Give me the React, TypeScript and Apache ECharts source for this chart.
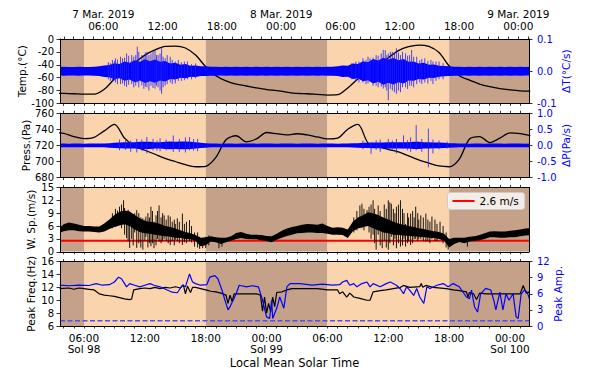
import React, { useEffect, useRef } from "react";
import * as echarts from "echarts";

const FONT = "DejaVu Sans";
const BLUE = "#0000ff";

// LMST hours counted from Sol 98 00:00
const X_MIN = 3.634;
const X_MAX = 49.87;
// UTC hours counted from 7 Mar. 2019 00:00
const UTC_MIN = 1.618;
const UTC_MAX = 49.08;

const LMST_TICKS = [6, 12, 18, 24, 30, 36, 42, 48];
const LMST_LABELS = ["06:00\nSol 98", "12:00", "18:00", "00:00\nSol 99", "06:00", "12:00", "18:00", "00:00\nSol 100"];
const UTC_TICKS = [6, 12, 18, 24, 30, 36, 42, 48];
const UTC_LABELS = ["7 Mar. 2019\n06:00", "12:00", "18:00", "8 Mar. 2019\n00:00", "06:00", "12:00", "18:00", "9 Mar. 2019\n00:00"];

// day / night spans [start, end, isDay]
const SPANS = [[0, 6, 0], [6, 18, 1], [18, 30, 0], [30, 42, 1], [42, 54, 0]];

// Hourly temperature (°C), h = 3..50
const TEMP_T0 = 3;
const TEMP = [-84, -84.5, -85, -85.5, -85.5, -78, -62, -48, -37, -25, -17, -11.5, -11, -14, -25, -43, -57, -65, -70, -73, -76, -78.5, -80, -82.5, -84.5, -85, -86, -87, -86.5, -76, -62, -50, -40, -29, -18, -12, -9.5, -11.5, -21, -42, -57, -64, -70, -74, -77, -79, -80.5, -81];

// Hourly pressure (Pa), h = 3..50
const PRES_T0 = 3;
const PRES = [736, 735, 731, 728.5, 730, 738, 746, 729, 719, 714, 709, 704, 700, 696, 693.5, 694, 705, 727, 732, 724.5, 728, 736, 734.5, 733, 734.5, 733, 730.5, 728, 729, 740, 746, 723, 718.5, 715, 712, 707, 702, 698, 694.5, 693.5, 703, 728, 731, 723.5, 729, 735.5, 734.5, 732];

// Noise envelopes (dense core), every 0.5 h from h = 3.5
const BAND_T0 = 3.5;
const BAND_STEP = 0.5;
const DT_AMP = [
  0.013, 0.014, 0.013, 0.013, 0.014, 0.013, 0.013, 0.014,
  0.015, 0.018, 0.019, 0.025, 0.022, 0.03, 0.026, 0.034, 0.029, 0.037, 0.031, 0.036, 0.029, 0.032, 0.024, 0.026, 0.02, 0.022, 0.017, 0.018, 0.015, 0.015, 0.014,
  0.014, 0.013, 0.014, 0.013, 0.014, 0.013, 0.014, 0.013, 0.014, 0.013, 0.014, 0.013, 0.014, 0.013, 0.014, 0.013, 0.014, 0.013, 0.014, 0.013, 0.014, 0.013, 0.014,
  0.014, 0.015, 0.018, 0.017, 0.024, 0.022, 0.031, 0.028, 0.038, 0.033, 0.042, 0.036, 0.041, 0.034, 0.038, 0.029, 0.03, 0.024, 0.026, 0.02, 0.021, 0.017, 0.016, 0.015, 0.014,
  0.014, 0.013, 0.014, 0.013, 0.014, 0.013, 0.014, 0.013, 0.014, 0.013, 0.014, 0.013, 0.014, 0.013, 0.014,
];
const DP_AMP = [
  0.06, 0.06, 0.055, 0.06, 0.06, 0.055, 0.06, 0.06, 0.06, 0.06,
  0.07, 0.08, 0.09, 0.1, 0.1, 0.1, 0.11, 0.11, 0.11, 0.1, 0.1, 0.11, 0.12, 0.11, 0.12, 0.12, 0.11, 0.1, 0.08, 0.07,
  0.06, 0.06, 0.055, 0.06, 0.06, 0.055, 0.06, 0.06, 0.06, 0.055, 0.06, 0.06, 0.06, 0.055, 0.06, 0.06, 0.06, 0.055, 0.06, 0.06, 0.06, 0.055, 0.06, 0.06, 0.06, 0.055, 0.06, 0.06,
  0.065, 0.07, 0.08, 0.08, 0.09, 0.09, 0.09, 0.1, 0.1, 0.1, 0.1, 0.1, 0.11, 0.11, 0.1, 0.1, 0.09, 0.09, 0.08, 0.07, 0.065,
  0.06, 0.06, 0.055, 0.06, 0.06, 0.055, 0.06, 0.06, 0.06, 0.055, 0.06, 0.06, 0.06, 0.055, 0.06,
];
const WIND_LO = [4.3, 4.8, 5.0, 5.0, 4.8, 4.7, 4.7, 4.6, 4.5, 4.7, 5.3, 5.8, 6.1, 6.4, 6.0, 5.2, 4.6, 4.3, 4.2, 4.0, 3.8, 3.6, 3.5, 3.3, 3.2, 3.0, 2.9, 2.5, 1.3, 1.5, 2.4, 2.2, 1.8, 2.2, 2.6, 3.0, 3.2, 3.0, 2.9, 2.9, 2.7, 2.5, 2.2, 2.8, 3.3, 3.7, 4.0, 4.3, 4.4, 4.5, 4.5, 4.4, 4.4, 4.2, 4.0, 4.0, 3.9, 3.2, 4.8, 5.4, 5.8, 6.0, 5.5, 5.0, 4.5, 4.3, 4.0, 3.9, 3.8, 3.7, 3.6, 3.5, 3.4, 3.3, 3.2, 3.0, 2.6, 1.0, 1.8, 2.3, 2.0, 2.4, 2.5, 2.7, 3.0, 3.4, 3.4, 3.3, 3.3, 3.4, 3.4, 3.6, 3.8, 3.9];
const WIND_HI = [5.5, 6.4, 6.8, 6.6, 6.3, 6.0, 6.0, 5.9, 5.9, 6.6, 7.5, 8.6, 9.3, 9.6, 9.4, 8.6, 7.8, 7.2, 7.0, 6.8, 6.5, 6.0, 5.8, 5.4, 5.0, 4.6, 4.3, 3.9, 3.3, 3.4, 3.6, 3.4, 3.3, 3.3, 3.6, 4.4, 4.6, 4.2, 4.0, 4.0, 3.9, 3.7, 3.6, 4.2, 4.9, 5.4, 5.8, 6.0, 6.3, 6.5, 6.4, 6.3, 6.6, 6.0, 5.6, 5.7, 5.6, 5.2, 7.0, 8.0, 8.5, 9.2, 9.0, 8.6, 8.0, 7.5, 7.0, 6.6, 6.3, 6.0, 5.8, 5.5, 5.3, 5.0, 4.8, 4.6, 4.2, 3.0, 3.3, 3.3, 3.3, 3.5, 3.6, 3.9, 4.3, 4.7, 4.8, 4.7, 4.7, 4.9, 5.0, 5.2, 5.4, 5.5];

// Individual spikes [h, low, high]
const DT_SPIKES = [
  [8.4, -0.025, 0.028], [8.6, -0.03, 0.025], [8.8, -0.03, 0.035], [9.0, -0.028, 0.032], [9.1, -0.035, 0.04], [9.3, -0.04, 0.036], [9.6, -0.04, 0.045], [9.8, -0.038, 0.04], [10.0, -0.045, 0.042], [10.2, -0.049, 0.055], [10.4, -0.042, 0.048], [10.7, -0.04, 0.05], [10.9, -0.05, 0.045], [11.1, -0.045, 0.05], [11.25, -0.035, 0.076], [11.4, -0.05, 0.06], [11.7, -0.044, 0.05], [11.9, -0.055, 0.048], [12.05, -0.048, 0.058], [12.2, -0.05, 0.06], [12.4, -0.06, 0.05], [12.6, -0.045, 0.055], [12.8, -0.052, 0.062], [13.0, -0.054, 0.066], [13.15, -0.045, 0.05], [13.3, -0.05, 0.05], [13.5, -0.06, 0.055], [13.65, -0.07, 0.071], [13.8, -0.05, 0.045], [14.0, -0.045, 0.04], [14.2, -0.04, 0.05], [14.5, -0.035, 0.045], [14.7, -0.04, 0.035], [15.0, -0.038, 0.03], [15.3, -0.03, 0.035], [15.6, -0.03, 0.028], [15.9, -0.028, 0.03], [16.2, -0.025, 0.03], [16.6, -0.025, 0.022], [17.0, -0.022, 0.024],
  [32.4, -0.025, 0.025], [32.8, -0.03, 0.03], [33.1, -0.035, 0.03], [33.5, -0.035, 0.04], [33.8, -0.04, 0.035], [34.0, -0.038, 0.045], [34.2, -0.033, 0.04], [34.5, -0.045, 0.042], [34.8, -0.045, 0.05], [35.0, -0.05, 0.048], [35.3, -0.048, 0.055], [35.5, -0.054, 0.066], [35.7, -0.05, 0.065], [35.85, -0.06, 0.05], [36.0, -0.09, 0.055], [36.2, -0.055, 0.06], [36.4, -0.06, 0.06], [36.6, -0.065, 0.055], [36.8, -0.07, 0.071], [37.0, -0.06, 0.058], [37.2, -0.065, 0.05], [37.4, -0.05, 0.06], [37.7, -0.05, 0.055], [37.9, -0.055, 0.048], [38.1, -0.045, 0.05], [38.3, -0.045, 0.066], [38.5, -0.05, 0.045], [38.8, -0.04, 0.045], [39.1, -0.035, 0.034], [39.3, -0.04, 0.038], [39.6, -0.035, 0.04], [39.9, -0.038, 0.032], [40.2, -0.03, 0.035], [40.4, -0.04, 0.03], [40.7, -0.03, 0.03], [41.0, -0.025, 0.03], [41.4, -0.025, 0.025],
];
const DP_SPIKES = [
  [9.5, -0.15, 0.18], [10.1, -0.14, 0.16], [10.6, -0.2, 0.15], [11.2, -0.22, 0.2], [11.7, -0.16, 0.18], [12.2, -0.25, 0.26], [12.8, -0.15, 0.2], [13.2, -0.16, 0.15], [13.5, -0.18, 0.22], [14.1, -0.15, 0.18], [14.8, -0.2, 0.31], [15.4, -0.2, 0.2], [16.0, -0.22, 0.25], [16.4, -0.15, 0.26], [16.8, -0.16, 0.2], [17.2, -0.18, 0.2],
  [33.5, -0.12, 0.15], [34.3, -0.26, 0.1], [34.8, -0.14, 0.16], [35.2, -0.2, 0.18], [36.0, -0.15, 0.2], [36.4, -0.13, 0.15], [36.8, -0.25, 0.2], [37.5, -0.1, 0.31], [37.9, -0.15, 0.16], [38.2, -0.2, 0.25], [38.75, -0.15, 0.63], [39.3, -0.2, 0.2], [39.95, -0.68, 0.52], [40.4, -0.25, 0.18], [41.0, -0.12, 0.15], [41.8, -0.1, 0.12],
];
const WIND_SPIKES = [
  [8.8, 5.5, 9.0], [9.1, 5.8, 10.0], [9.3, 6.0, 9.6], [9.5, 6.5, 10.5], [9.7, 5.5, 11.0], [9.9, 6.5, 12.0], [10.0, 4.0, 10.2], [10.2, 3.2, 9.0], [10.35, 2.5, 9.8], [10.5, 0.9, 9.3], [10.7, 3.0, 9.0], [10.85, 1.5, 8.8], [11.0, 4.5, 9.0], [11.2, 0.9, 9.7], [11.4, 2.0, 9.0], [11.6, 1.0, 8.0], [11.8, 0.5, 7.8], [12.0, 2.5, 7.5], [12.1, 3.5, 8.2], [12.3, 1.0, 9.0], [12.45, 2.0, 8.0], [12.6, 1.3, 10.5], [12.75, 2.0, 9.5], [12.9, 0.85, 7.0], [13.1, 1.5, 8.5], [13.25, 3.0, 9.5], [13.4, 2.4, 10.8], [13.6, 2.0, 8.0], [13.75, 2.5, 9.0], [13.9, 3.0, 8.5], [14.1, 2.5, 7.5], [14.3, 2.0, 8.5], [14.5, 1.6, 8.2], [14.7, 2.5, 7.0], [14.9, 1.5, 7.5], [15.0, 2.8, 6.5], [15.2, 2.5, 7.8], [15.4, 2.0, 7.0], [15.7, 1.6, 8.9], [15.9, 2.2, 6.5], [16.1, 2.0, 7.0], [16.4, 2.5, 7.4], [16.6, 2.2, 6.0], [16.9, 1.2, 4.5], [17.2, 1.0, 4.5], [17.4, 0.7, 3.5], [17.7, 0.85, 3.0], [18.0, 0.9, 3.5], [18.3, 1.5, 3.8], [19.3, 0.85, 3.2], [19.6, 1.2, 3.2],
  [32.6, 4.5, 8.0], [32.9, 5.0, 9.5], [33.2, 5.5, 10.8], [33.4, 5.5, 11.2], [33.6, 5.0, 10.0], [33.9, 6.0, 9.7], [34.1, 4.5, 10.5], [34.3, 3.0, 11.0], [34.5, 4.0, 12.0], [34.65, 2.0, 10.0], [34.8, 0.5, 8.5], [35.0, 4.0, 10.8], [35.2, 1.5, 9.5], [35.4, 0.85, 8.0], [35.6, 2.5, 11.0], [35.8, 1.0, 10.0], [36.0, 0.5, 12.0], [36.15, 2.0, 11.5], [36.3, 3.5, 11.2], [36.5, 1.5, 10.0], [36.65, 3.0, 9.0], [36.8, 0.85, 10.5], [37.0, 2.0, 11.0], [37.2, 1.2, 12.0], [37.4, 1.5, 10.0], [37.55, 3.0, 9.0], [37.7, 1.2, 6.5], [37.9, 2.0, 9.0], [38.0, 2.5, 8.0], [38.2, 1.6, 8.9], [38.4, 2.0, 9.5], [38.55, 3.0, 8.0], [38.7, 3.0, 10.5], [38.9, 2.5, 9.0], [39.0, 3.0, 7.5], [39.2, 3.0, 8.5], [39.45, 2.5, 8.0], [39.7, 2.4, 8.9], [39.9, 2.5, 7.5], [40.1, 2.0, 7.0], [40.3, 3.0, 8.2], [40.6, 2.5, 7.5], [40.8, 2.5, 6.5], [41.1, 3.0, 7.0], [41.4, 2.0, 6.0], [41.7, 1.0, 4.5], [41.9, 0.5, 3.0], [43.8, 1.2, 3.3],
];
const WIND_THRESHOLD = 2.6;

// Peak frequency (Hz) [h, value]
const FREQ = [
  [3.6, 11.8], [4.5, 11.9], [5, 11.7], [5.5, 11.9], [6, 11.8], [6.5, 11.7], [7, 11.6], [7.5, 11.0], [8, 10.8], [8.5, 10.7], [9, 10.6], [9.5, 10.4], [10, 10.2], [10.5, 10.1], [10.7, 10.2], [10.9, 11.6], [11.5, 11.8], [12, 11.9], [12.5, 11.8], [13, 12.0], [13.5, 11.8], [14, 12.0], [14.5, 11.9], [15, 12.1], [15.5, 11.9], [15.8, 12.4], [16.0, 11.0], [16.2, 12.2], [16.5, 11.2], [16.7, 12.0], [17, 12.0], [17.5, 11.8], [18, 11.6], [18.5, 11.4], [19, 11.3], [19.5, 11.1], [20, 10.8], [20.2, 9.5], [20.4, 10.8], [20.6, 9.8], [20.8, 11.0], [21.3, 11.0], [22, 11.0], [22.5, 11.0], [23, 11.0], [23.4, 10.8], [23.6, 8.3], [23.8, 10.5], [24.0, 8.0], [24.2, 9.5], [24.4, 8.2], [24.6, 10.5], [24.8, 9.0], [25.0, 11.2], [25.5, 11.3], [26, 11.6], [26.5, 11.8], [27, 11.8],
  [28, 11.8], [29, 11.8], [30, 11.6], [31, 11.6], [31.2, 11.0], [31.5, 11.3], [31.9, 10.5], [32.2, 11.1], [32.6, 10.5], [33.2, 10.3], [33.9, 10.0], [34.2, 10.0], [34.5, 11.3], [35.2, 11.5], [35.8, 11.6], [36.5, 11.8], [37.2, 12.0], [37.5, 12.3], [38.1, 12.0], [39.1, 12.1], [39.25, 12.6], [39.4, 12.0], [39.7, 12.3], [40.4, 12.0], [41.7, 11.8], [42.4, 11.6], [43, 11.5], [43.7, 11.3], [43.85, 10.5], [44.0, 11.2], [44.4, 11.0], [44.7, 10.1], [45, 11.1], [45.7, 11.0], [47, 11.0], [48.3, 11.0], [49, 11.0], [49.3, 12.3], [49.6, 11.1], [49.9, 11.3],
];
// Peak amplitude [h, value]
const AMP = [
  [3.6, 7.6], [4.5, 7.5], [5.5, 7.6], [6.5, 7.55], [7.2, 7.9], [7.8, 7.6], [8.5, 7.7], [9.0, 8.2], [9.4, 9.1], [9.7, 8.8], [10.0, 7.9], [10.2, 7.3], [10.5, 7.9], [11.0, 7.6], [11.5, 7.3], [12.0, 7.6], [12.5, 7.9], [12.9, 7.6], [13.5, 7.3], [14.2, 6.7], [14.7, 6.3], [15.2, 6.2], [15.7, 7.6], [16.0, 7.3], [16.4, 9.7], [16.7, 8.2], [17.0, 7.9], [17.5, 7.6], [18.1, 7.7], [18.4, 9.1], [18.9, 9.4], [19.2, 8.8], [19.6, 6.7], [19.9, 4.8], [20.2, 3.0], [20.4, 3.6], [20.7, 4.8], [21.0, 6.0], [21.3, 7.6], [22.0, 7.3], [22.6, 7.5], [23.2, 7.3], [23.6, 4.8], [24.0, 1.7], [24.3, 1.4], [24.5, 4.8], [24.6, 1.4], [25.0, 3.3], [25.3, 5.4], [25.7, 3.3], [26.0, 7.3], [26.3, 7.9], [27.3, 7.9],
  [28.5, 7.6], [29.5, 7.8], [30.5, 7.6], [31.2, 7.7], [31.5, 8.2], [31.9, 8.5], [32.2, 7.6], [32.6, 7.9], [32.9, 7.3], [33.4, 7.9], [33.9, 8.2], [34.2, 7.3], [34.5, 7.9], [35.2, 7.3], [35.8, 7.9], [36.2, 8.2], [36.8, 7.6], [37.2, 6.9], [37.5, 6.0], [37.8, 7.3], [38.1, 6.7], [38.5, 5.7], [38.8, 7.0], [39.1, 5.4], [39.5, 4.2], [39.8, 7.3], [40.1, 7.0], [40.8, 7.6], [41.4, 7.9], [41.9, 7.3], [42.4, 7.9], [43.0, 7.3], [43.7, 5.4], [44.0, 5.1], [44.2, 6.7], [44.5, 3.6], [44.8, 2.6], [45.1, 6.0], [45.6, 7.0], [46.1, 6.7], [46.4, 4.8], [46.6, 3.0], [47.0, 6.3], [47.3, 3.0], [47.6, 6.0], [47.9, 4.8], [48.3, 6.0], [48.6, 1.7], [48.8, 1.4], [49.1, 6.0], [49.4, 6.7], [49.7, 6.3], [49.9, 5.1],
];
const AMP_THRESHOLD = 1.0;

const TOPS = [39, 113.2, 187.4, 261.6];
const GRID_H = 64.4;

const hourTicks = (a: number, b: number) => {
  const out: number[] = [];
  for (let h = Math.ceil(a); h <= b; h++) out.push(h);
  return out;
};

function xAx(grid: number, position: string, opts: any = {}) {
  return {
    type: "value", gridIndex: grid, position, min: X_MIN, max: X_MAX, z: 5,
    axisLine: { show: true, onZero: false, lineStyle: { color: "#000", width: 1 } },
    axisTick: { show: true, customValues: hourTicks(X_MIN, X_MAX), length: 2.5, lineStyle: { color: "#000", width: 0.8 } },
    axisLabel: { show: false },
    splitLine: { show: false },
    ...opts,
  };
}

function yAx(grid: number, position: string, min: number, max: number, interval: number, name: string, color: string, gap: number, fmt?: (v: number) => string, show = true) {
  return {
    type: "value", gridIndex: grid, position, min, max, interval, name, z: 5,
    nameLocation: "middle", nameGap: gap, nameMoveOverlap: false,
    nameTextStyle: { color, fontSize: 10.5, fontFamily: FONT },
    axisLine: { show: true, onZero: false, lineStyle: { color: "#000", width: 1 } },
    axisTick: { show, length: 3.5, lineStyle: { color: "#000", width: 0.8 } },
    axisLabel: { show, color, fontSize: 10, fontFamily: FONT, margin: position === "left" ? 6 : 8, formatter: fmt },
    splitLine: { show: false },
  };
}

const bgSeries = (i: number) => ({
  type: "custom", xAxisIndex: 2 * i, yAxisIndex: 2 * i, z: 0, silent: true, clip: true,
  data: SPANS,
  renderItem: (params: any, api: any) => {
    const cs = params.coordSys;
    const x1 = api.coord([api.value(0), 0])[0];
    const x2 = api.coord([api.value(1), 0])[0];
    return { type: "rect", shape: { x: x1, y: cs.y, width: x2 - x1, height: cs.height }, style: { fill: api.value(2) ? "#fad4ac" : "#c4a188" } };
  },
});

const bandSeries = (xi: number, yi: number, lo: number[], hi: number[], color: string) => ({
  type: "custom", xAxisIndex: xi, yAxisIndex: yi, z: 3, silent: true, clip: true,
  data: [[20, 0]],
  renderItem: (_p: any, api: any) => {
    const pts: number[][] = [];
    for (let i = 0; i < hi.length; i++) pts.push(api.coord([BAND_T0 + i * BAND_STEP, hi[i]]));
    for (let i = lo.length - 1; i >= 0; i--) pts.push(api.coord([BAND_T0 + i * BAND_STEP, lo[i]]));
    return { type: "polygon", shape: { points: pts }, style: { fill: color } };
  },
});

const spikeSeries = (xi: number, yi: number, data: number[][], color: string, w: number) => ({
  type: "custom", xAxisIndex: xi, yAxisIndex: yi, z: 3, silent: true, clip: true,
  data,
  renderItem: (_p: any, api: any) => {
    const a = api.coord([api.value(0), api.value(1)]);
    const b = api.coord([api.value(0), api.value(2)]);
    return { type: "line", shape: { x1: a[0], y1: a[1], x2: b[0], y2: b[1] }, style: { stroke: color, lineWidth: w } };
  },
});

export default function App() {
  const ref = useRef<HTMLDivElement>(null);
  useEffect(() => {
    if (!ref.current) return;
    const chart = echarts.init(ref.current, undefined, { renderer: "svg" });
    const tempData = TEMP.map((v, i) => [TEMP_T0 + i, v]);
    const presData = PRES.map((v, i) => [PRES_T0 + i, v]);
    const option: any = {
      animation: false,
      textStyle: { fontFamily: FONT },
      grid: TOPS.map((t) => ({ left: 60, right: 73, top: t, height: GRID_H })),
      legend: {
        data: [{ name: "2.6 m/s", icon: "rect" }],
        left: 447.5, top: 192.5, itemWidth: 22, itemHeight: 2, itemGap: 5,
        padding: [3, 6, 3, 5],
        backgroundColor: "rgba(255,255,255,0.8)", borderColor: "#cccccc", borderWidth: 1, borderRadius: 3,
        textStyle: { fontSize: 10.5, color: "#000", fontFamily: FONT },
      },
      xAxis: [
        xAx(0, "bottom"),
        {
          type: "value", gridIndex: 0, position: "top", min: UTC_MIN, max: UTC_MAX, z: 5,
          axisLine: { show: true, onZero: false, lineStyle: { color: "#000", width: 1 } },
          axisTick: { show: true, customValues: hourTicks(UTC_MIN, UTC_MAX), length: 2.5, lineStyle: { color: "#000", width: 0.8 } },
          axisLabel: {
            show: true, customValues: UTC_TICKS, fontSize: 10.5, color: "#000", margin: 7, lineHeight: 12, align: "center",
            formatter: (v: number) => UTC_LABELS[UTC_TICKS.indexOf(Math.round(v))] || "",
          },
          splitLine: { show: false },
        },
        xAx(1, "bottom"),
        xAx(1, "top"),
        xAx(2, "bottom"),
        xAx(2, "top"),
        xAx(3, "bottom", {
          name: "Local Mean Solar Time", nameLocation: "middle", nameGap: 31, nameMoveOverlap: false,
          nameTextStyle: { fontSize: 11.5, color: "#000", fontFamily: FONT },
          axisLabel: {
            show: true, customValues: LMST_TICKS, fontSize: 10.5, color: "#000", margin: 6, lineHeight: 11.5, align: "center",
            formatter: (v: number) => LMST_LABELS[LMST_TICKS.indexOf(Math.round(v))] || "",
          },
        }),
        xAx(3, "top"),
      ],
      yAxis: [
        yAx(0, "left", -100, 0, 20, "Temp.(°C)", "#000", 33),
        yAx(0, "right", -0.1, 0.1, 0.1, "ΔT(°C/s)", BLUE, 31, (v) => v.toFixed(1)),
        yAx(1, "left", 680, 760, 20, "Press.(Pa)", "#000", 29),
        yAx(1, "right", -1, 1, 0.5, "ΔP(Pa/s)", BLUE, 31, (v) => v.toFixed(1)),
        yAx(2, "left", 0, 15, 3, "W. Sp.(m/s)", "#000", 24),
        { ...yAx(2, "right", 0, 15, 3, "", "#000", 20, undefined, false), name: "" },
        yAx(3, "left", 6, 16, 2, "Peak Freq.(Hz)", "#000", 24),
        yAx(3, "right", 0, 12, 3, "Peak Amp.", BLUE, 23),
      ],
      series: [
        bgSeries(0), bgSeries(1), bgSeries(2), bgSeries(3),
        // Panel 1
        { type: "line", name: "temp", xAxisIndex: 0, yAxisIndex: 0, z: 2, data: tempData, smooth: 0.3, showSymbol: false, lineStyle: { color: "#000", width: 1.3 } },
        bandSeries(0, 1, DT_AMP.map((a) => -a), DT_AMP, BLUE),
        spikeSeries(0, 1, DT_SPIKES, "#2020ff", 0.8),
        // Panel 2
        { type: "line", name: "pres", xAxisIndex: 2, yAxisIndex: 2, z: 2, data: presData, smooth: 0.3, showSymbol: false, lineStyle: { color: "#000", width: 1.3 } },
        bandSeries(2, 3, DP_AMP.map((a) => -a), DP_AMP, BLUE),
        spikeSeries(2, 3, DP_SPIKES, "#2020ff", 0.8),
        // Panel 3
        { type: "line", name: "2.6 m/s", xAxisIndex: 4, yAxisIndex: 4, z: 2, data: [[X_MIN, WIND_THRESHOLD], [X_MAX, WIND_THRESHOLD]], showSymbol: false, lineStyle: { color: "#ff0000", width: 2 }, itemStyle: { color: "#ff0000" } },
        bandSeries(4, 4, WIND_LO, WIND_HI, "#000"),
        spikeSeries(4, 4, WIND_SPIKES, "#000", 0.9),
        // Panel 4
        { type: "line", name: "freq", xAxisIndex: 6, yAxisIndex: 6, z: 2, data: FREQ, showSymbol: false, lineStyle: { color: "#000", width: 1.2 } },
        { type: "line", name: "amp", xAxisIndex: 6, yAxisIndex: 7, z: 3, data: AMP, showSymbol: false, lineStyle: { color: BLUE, width: 1.2 } },
        { type: "line", name: "ampth", xAxisIndex: 6, yAxisIndex: 7, z: 3, data: [[X_MIN, AMP_THRESHOLD], [X_MAX, AMP_THRESHOLD]], showSymbol: false, lineStyle: { color: "#4d4dff", width: 1.5, type: [5, 2.5] } },
      ],
    };
    chart.setOption(option);
    return () => chart.dispose();
  }, []);
  return <div ref={ref} style={{ width: 602, height: 371, position: "absolute", left: 0, top: 0 }} />;
}
